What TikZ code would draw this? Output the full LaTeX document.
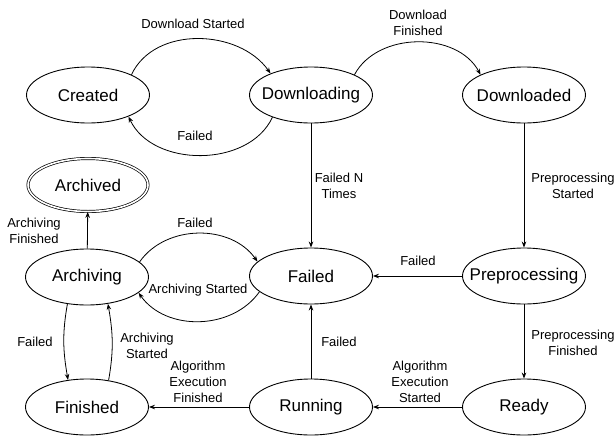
\documentclass[tikz,border=0pt]{standalone}
\usepackage{fontspec}
\setmainfont{Liberation Sans}
\usetikzlibrary{arrows.meta,shapes.geometric}
% state names are set in a zero-width box so the ellipse keeps its fixed size
\newcommand\statename[1]{\makebox[0pt][c]{#1}}
\begin{document}
\begin{tikzpicture}[x=1pt,y=-1pt,
  state/.style={draw, ellipse, line width=0.9pt, minimum width=123pt, minimum height=56pt,
    inner sep=0pt, font=\fontsize{17}{20}\selectfont},
  finalstate/.style={state, double, double distance=1.6pt, line width=0.7pt,
    minimum width=120pt, minimum height=53pt},
  edge/.style={draw, line width=0.8pt, -{Stealth[length=6pt,width=4.5pt]}},
  lbl/.style={align=center, inner sep=0pt, font=\fontsize{13}{16}\selectfont}]
\useasboundingbox (0,0) rectangle (616,437);

% states
\node[state] (created)       at (88,95)   {\statename{Created}};
\node[state] (downloading)   at (311,95)  {\statename{Downloading}};
\node[state] (downloaded)    at (524,95)  {\statename{Downloaded}};
\node[finalstate] (archived) at (88,185)  {\statename{Archived}};
\node[state] (archiving)     at (87,277)  {\statename{Archiving}};
\node[state] (failed)        at (311,276) {\statename{Failed}};
\node[state] (preprocessing) at (524,276) {\statename{Preprocessing}};
\node[state] (finished)      at (87,407)  {\statename{Finished}};
\node[state] (running)       at (311,407) {\statename{Running}};
\node[state] (ready)         at (524,407) {\statename{Ready}};

% transitions
\draw[edge] (created.25) to[out=65, in=125] (downloading.152);
\draw[edge] (downloading.210) to[out=-115, in=-65] (created.332);
\draw[edge] (downloading.25) to[out=62, in=118] (downloaded.155);
\draw[edge] (downloading) -- (failed);
\draw[edge] (downloaded) -- (preprocessing);
\draw[edge] (preprocessing) -- (failed);
\draw[edge] (preprocessing) -- (ready);
\draw[edge] (ready) -- (running);
\draw[edge] (running) -- (failed);
\draw[edge] (running) -- (finished);
\draw[edge] (archiving) -- (archived);
\draw[edge] (archiving.16) to[out=55, in=125] (failed.165);
\draw[edge] (failed.197) to[out=-125, in=-55] (archiving.343);
\draw[edge] (archiving.234.5) to[out=-100, in=100] (finished.125.5);
\draw[edge] (finished.51.4) to[out=80, in=-80] (archiving.308.6);

% transition labels
\node[lbl] (l1)  at (193,24)  {Download Started};
\node[lbl] (l2)  at (195,136) {Failed};
\node[lbl] (l3)  at (418,23)  {Download\\Finished};
\node[lbl] (l4)  at (339,186) {Failed N\\Times};
\node[lbl] (l5)  at (573,186) {Preprocessing\\Started};
\node[lbl] (l6)  at (418,261) {Failed};
\node[lbl] (l7)  at (573,343) {Preprocessing\\Finished};
\node[lbl] (l8)  at (420,382) {Algorithm\\Execution\\Started};
\node[lbl] (l9)  at (339,342) {Failed};
\node[lbl] (l10) at (198,382) {Algorithm\\Execution\\Finished};
\node[lbl] (l11) at (34,231)  {Archiving\\Finished};
\node[lbl] (l12) at (195,223) {Failed};
\node[lbl] (l13) at (198,290) {Archiving Started};
\node[lbl] (l14) at (35,342)  {Failed};
\node[lbl] (l15) at (147,346) {Archiving\\Started};
\end{tikzpicture}
\end{document}
